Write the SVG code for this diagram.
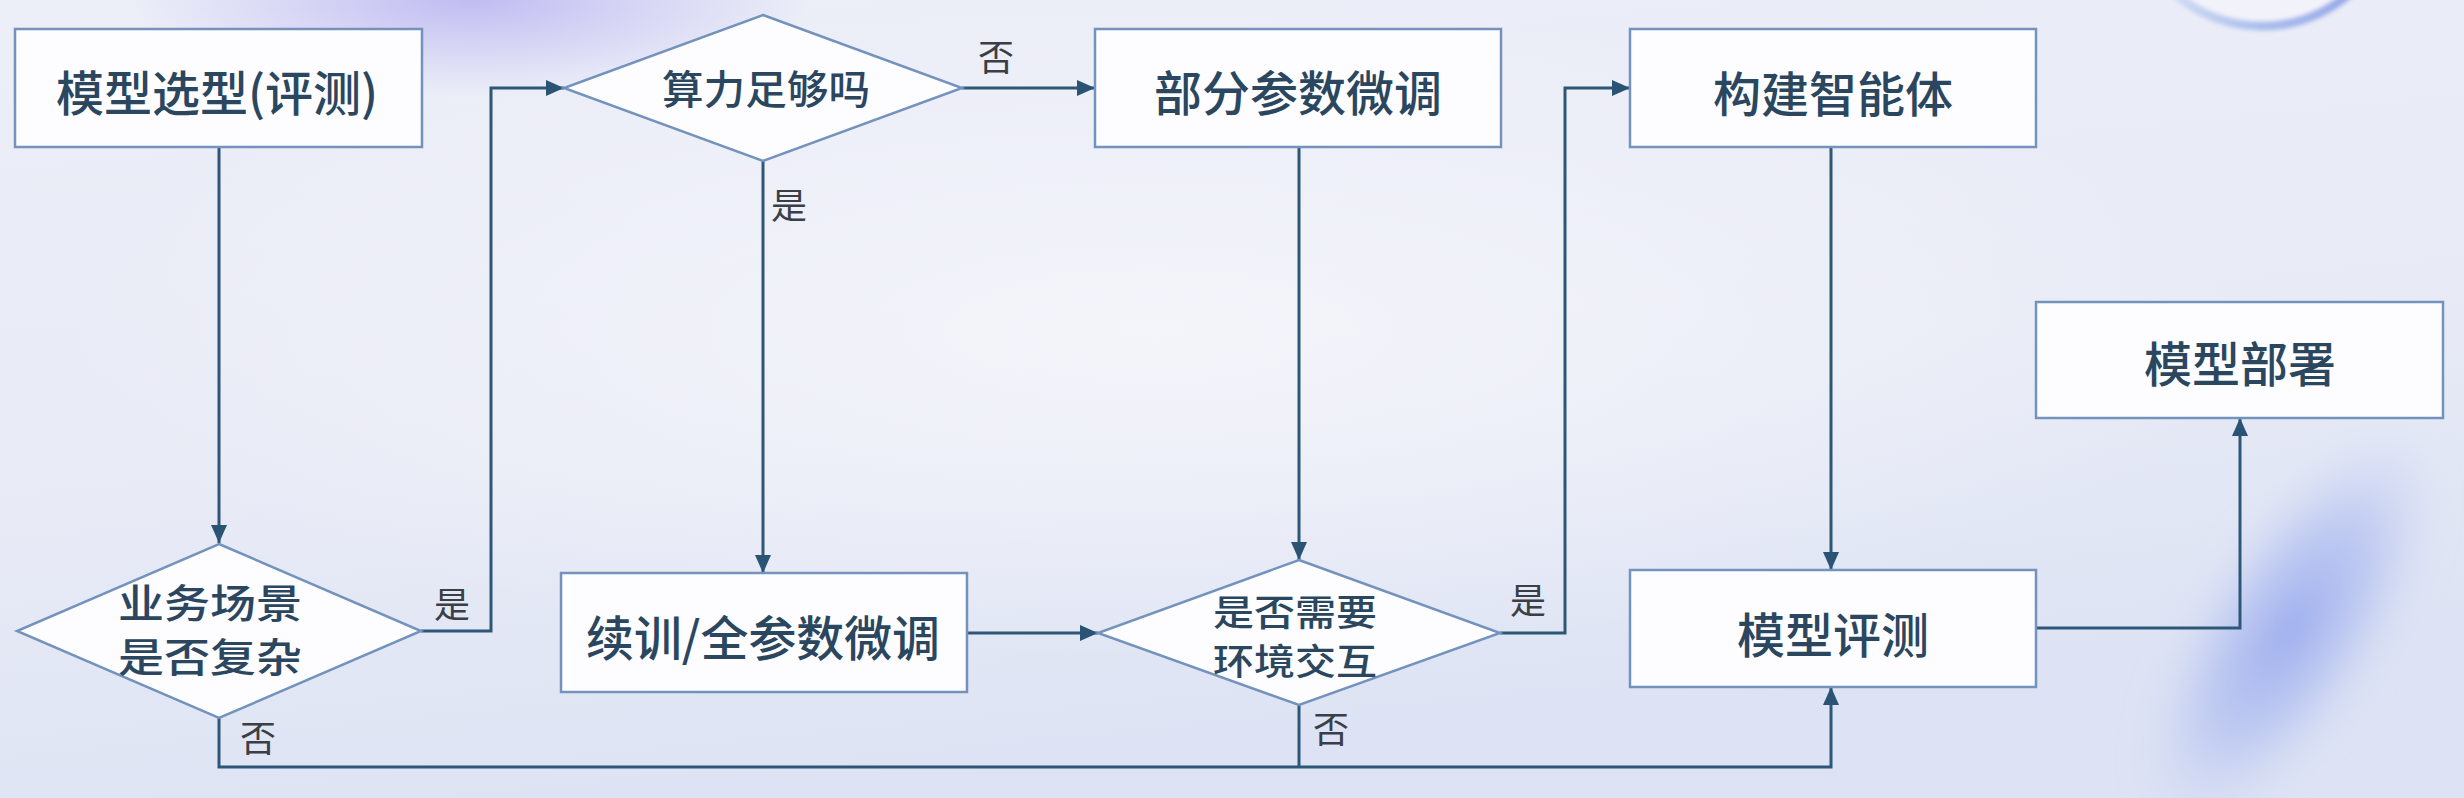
<svg xmlns="http://www.w3.org/2000/svg" width="2464" height="798" viewBox="0 0 2464 798">
<defs>
<style>
.box{fill:#fdfdff;stroke:#7393bd;stroke-width:2.5}
.dia{fill:#fdfdff;stroke:#7393bd;stroke-width:2.5}
.t{font-family:"Noto Sans CJK SC","Microsoft YaHei",sans-serif;font-size:48px;font-weight:500;fill:#2b4760;text-anchor:middle;dominant-baseline:central}
.dt{font-family:"Noto Sans CJK SC",sans-serif;font-size:40px;font-weight:500;fill:#2b4760;text-anchor:middle;dominant-baseline:central}
.lb{font-family:"Noto Sans CJK SC",sans-serif;font-size:36px;fill:#3a3e46;text-anchor:middle;dominant-baseline:central}
.c{fill:none;stroke:#2e5677;stroke-width:3}
</style>
<marker id="ar" markerUnits="userSpaceOnUse" markerWidth="20" markerHeight="16" refX="18" refY="8" orient="auto">
<path d="M0,0 L18,8 L0,16 Z" fill="#2a5374"/>
</marker>
<linearGradient id="bg" x1="0" y1="0" x2="0.3" y2="1">
<stop offset="0" stop-color="#eceef8"/>
<stop offset="0.6" stop-color="#e8ebf6"/>
<stop offset="1" stop-color="#dde3f4"/>
</linearGradient>
<radialGradient id="lite" cx="0.5" cy="0.5" r="0.5">
<stop offset="0" stop-color="#f5f6fb" stop-opacity="0.9"/>
<stop offset="1" stop-color="#f5f6fb" stop-opacity="0"/>
</radialGradient>
<radialGradient id="purp" cx="0.5" cy="0.5" r="0.5">
<stop offset="0" stop-color="#c0bcf2" stop-opacity="1"/>
<stop offset="1" stop-color="#c3bff2" stop-opacity="0"/>
</radialGradient>
<radialGradient id="blue" cx="0.5" cy="0.5" r="0.5">
<stop offset="0" stop-color="#9aabee" stop-opacity="1"/>
<stop offset="0.55" stop-color="#b3c0f0" stop-opacity="0.7"/>
<stop offset="1" stop-color="#c6cff2" stop-opacity="0"/>
</radialGradient>
<linearGradient id="arc" x1="0" y1="0" x2="1" y2="0">
<stop offset="0" stop-color="#e4e9f8"/>
<stop offset="0.5" stop-color="#a9bdec"/>
<stop offset="1" stop-color="#8d9ee6"/>
</linearGradient>
<filter id="blur" x="-50%" y="-50%" width="200%" height="200%"><feGaussianBlur stdDeviation="16"/></filter>
<filter id="blur2" x="-20%" y="-20%" width="140%" height="140%"><feGaussianBlur stdDeviation="2"/></filter>
</defs>
<g id="background">
<rect x="0" y="0" width="2464" height="798" fill="url(#bg)"/>
<ellipse cx="1150" cy="330" rx="1100" ry="330" fill="url(#lite)"/>
<ellipse cx="470" cy="0" rx="340" ry="95" fill="url(#purp)"/>
<ellipse cx="2290" cy="630" rx="95" ry="230" fill="url(#blue)" transform="rotate(33 2290 630)" filter="url(#blur)"/>
<circle cx="2262" cy="-108" r="134" fill="#f2f3fa" stroke="url(#arc)" stroke-width="9" filter="url(#blur2)"/>
</g>
<g id="connectors">
<path class="c" d="M219,147 V543" marker-end="url(#ar)"/>
<path class="c" d="M421,631 H491 V88 H564" marker-end="url(#ar)"/>
<path class="c" d="M962,88 H1095" marker-end="url(#ar)"/>
<path class="c" d="M763,161 V573" marker-end="url(#ar)"/>
<path class="c" d="M967,633 H1098" marker-end="url(#ar)"/>
<path class="c" d="M1299,147 V560" marker-end="url(#ar)"/>
<path class="c" d="M1500,633 H1565 V88 H1630" marker-end="url(#ar)"/>
<path class="c" d="M1831,147 V570" marker-end="url(#ar)"/>
<path class="c" d="M219,718 V767 H1831 V687" marker-end="url(#ar)"/>
<path class="c" d="M1299,705 V767"/>
<path class="c" d="M2036,628 H2240 V418" marker-end="url(#ar)"/>
<text class="lb" x="996" y="55">否</text>
<text class="lb" x="789" y="203">是</text>
<text class="lb" x="452" y="602">是</text>
<text class="lb" x="258" y="736">否</text>
<text class="lb" x="1528" y="598">是</text>
<text class="lb" x="1331" y="727">否</text>
</g>
<g id="n-select">
<rect class="box" x="15" y="29" width="407" height="118"/>
<text class="t" x="217" y="90">模型选型(评测)</text>
</g>
<g id="n-compute">
<polygon class="dia" points="763,15 962,88 763,161 564,88"/>
<text class="dt" x="766" y="87" textLength="208" lengthAdjust="spacingAndGlyphs">算力足够吗</text>
</g>
<g id="n-partial">
<rect class="box" x="1095" y="29" width="406" height="118"/>
<text class="t" x="1298" y="90">部分参数微调</text>
</g>
<g id="n-agent">
<rect class="box" x="1630" y="29" width="406" height="118"/>
<text class="t" x="1833" y="91">构建智能体</text>
</g>
<g id="n-deploy">
<rect class="box" x="2036" y="302" width="407" height="116"/>
<text class="t" x="2240" y="361">模型部署</text>
</g>
<g id="n-scene">
<polygon class="dia" points="219,544 421,631 219,718 17,631"/>
<text class="dt" x="210" y="601" textLength="184" lengthAdjust="spacingAndGlyphs">业务场景</text>
<text class="dt" x="210" y="655" textLength="184" lengthAdjust="spacingAndGlyphs">是否复杂</text>
</g>
<g id="n-full">
<rect class="box" x="561" y="573" width="406" height="119"/>
<text class="t" x="763" y="635" textLength="354" lengthAdjust="spacingAndGlyphs">续训/全参数微调</text>
</g>
<g id="n-env">
<polygon class="dia" points="1299,560 1500,633 1299,705 1098,633"/>
<text class="dt" x="1295" y="610" style="font-size:36px" textLength="164" lengthAdjust="spacingAndGlyphs">是否需要</text>
<text class="dt" x="1295" y="659" style="font-size:36px" textLength="164" lengthAdjust="spacingAndGlyphs">环境交互</text>
</g>
<g id="n-eval">
<rect class="box" x="1630" y="570" width="406" height="117"/>
<text class="t" x="1833" y="632">模型评测</text>
</g>
</svg>
